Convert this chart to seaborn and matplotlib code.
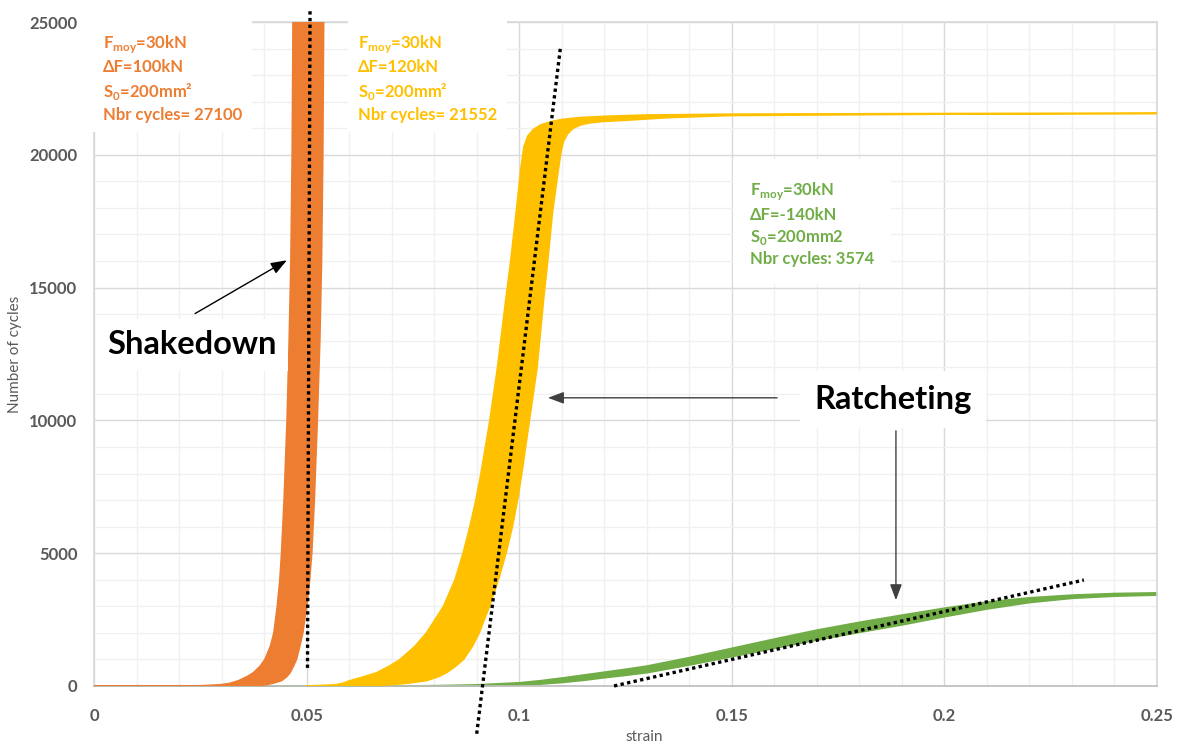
import numpy as np
import pandas as pd
import matplotlib
matplotlib.use('Agg')
import matplotlib.pyplot as plt
import seaborn as sns
from matplotlib.ticker import MultipleLocator

# band outlines (strain, cycles)
orange_out_y = [0, 20, 50, 100, 200, 350, 500, 750, 1000, 1500, 2000, 3000, 4000, 5000, 7000, 10000, 13000, 16000, 20000, 25000, 27100]
orange_out_x = [0.0240, 0.0270, 0.0300, 0.0320, 0.0340, 0.0360, 0.0375, 0.0391, 0.0402, 0.0415, 0.0423, 0.0431, 0.0437, 0.0441,
                0.0447, 0.0454, 0.0459, 0.0463, 0.0466, 0.0468, 0.0469]
orange_in_y = [0, 20, 50, 100, 200, 350, 500, 750, 1000, 1500, 2000, 3000, 4000, 5000, 7000, 10000, 13000, 16000, 20000, 25000, 27100]
orange_in_x = [0.0360, 0.0385, 0.0405, 0.0420, 0.0441, 0.0453, 0.0461, 0.0469, 0.0476, 0.0484, 0.0491, 0.0500, 0.0507, 0.0512,
               0.0518, 0.0525, 0.0531, 0.0535, 0.0538, 0.0540, 0.0541]

yellow_out_y = [0, 20, 50, 100, 200, 350, 500, 750, 1000, 1500, 2000, 3000, 4000, 5000, 6000, 7000, 8000, 10000, 12000, 14500,
                16000, 18000, 19500, 20300, 20700, 20950, 21130, 21250, 21330, 21400, 21450, 21500, 21530, 21555, 21570]
yellow_out_x = [0.0500, 0.0540, 0.0570, 0.0585, 0.0602, 0.0635, 0.0665, 0.0695, 0.0720, 0.0755, 0.0782, 0.0822, 0.0849, 0.0868,
                0.0884, 0.0898, 0.0910, 0.0931, 0.0949, 0.0968, 0.0980, 0.0994, 0.1004, 0.1011, 0.1020, 0.1033, 0.1051,
                0.1075, 0.1100, 0.1140, 0.1200, 0.1300, 0.1500, 0.2000, 0.2500]
yellow_in_y = [0, 20, 50, 100, 200, 350, 500, 750, 1000, 1500, 2000, 3000, 4000, 5000, 6000, 7000, 8000, 9000, 10000, 12000, 14500,
               16000, 17800, 19100, 20100, 20500, 20800, 21000, 21130, 21200, 21250, 21300, 21400, 21480, 21530, 21550]
yellow_in_x = [0.0600, 0.0660, 0.0700, 0.0735, 0.0782, 0.0810, 0.0829, 0.0851, 0.0869, 0.0890, 0.0906, 0.0930, 0.0951, 0.0969,
               0.0984, 0.0996, 0.1006, 0.1015, 0.1024, 0.1042, 0.1057, 0.1067, 0.1078, 0.1089, 0.1098, 0.1104, 0.1114, 0.1127,
               0.1145, 0.1165, 0.1192, 0.1250, 0.1350, 0.1500, 0.2000, 0.2500]

green_x = [0.0, 0.05, 0.07, 0.08, 0.09, 0.10, 0.105, 0.11, 0.115, 0.12, 0.125, 0.13, 0.14, 0.15, 0.16, 0.17, 0.18, 0.19,
           0.20, 0.21, 0.22, 0.23, 0.24, 0.25]
green_top = [0, 0, 15, 30, 60, 140, 220, 320, 430, 540, 650, 770, 1090, 1440, 1790, 2125, 2420, 2690,
             2950, 3180, 3340, 3440, 3500, 3525]
green_bot = [0, 0, 0, 5, 10, 50, 90, 150, 230, 330, 420, 520, 810, 1125, 1440, 1750, 2040, 2320,
             2630, 2920, 3160, 3320, 3400, 3440]

# dotted trend lines
trend_shake = pd.DataFrame({'strain': [0.0502, 0.0508], 'cycles': [680, 25450]})
trend_yellow = pd.DataFrame({'strain': [0.0900, 0.1097], 'cycles': [-1800, 24050]})
trend_green = pd.DataFrame({'strain': [0.1223, 0.2328], 'cycles': [0, 3990]})

x_ticks = [0, 0.05, 0.1, 0.15, 0.2, 0.25]
x_labels = ['0', '0.05', '0.1', '0.15', '0.2', '0.25']

orange = '#ED7D31'
yellow = '#FFC000'
green = '#70AD47'
grey = '#595959'

sns.set_theme(style='white')
plt.rcParams['font.family'] = ['Lato', 'DejaVu Sans']
plt.rcParams['mathtext.fontset'] = 'custom'
plt.rcParams['mathtext.rm'] = 'Lato'
plt.rcParams['mathtext.bf'] = 'Lato:bold'

fig = plt.figure(figsize=(11.8, 7.44), dpi=100)
ax = fig.add_axes([0.0797, 0.078, 0.9008, 0.8924])

ax.set_xlim(0, 0.25)
ax.set_ylim(0, 25000)
ax.set_xticks(x_ticks, labels=x_labels)
ax.xaxis.set_minor_locator(MultipleLocator(0.01))
ax.yaxis.set_major_locator(MultipleLocator(5000))
ax.yaxis.set_minor_locator(MultipleLocator(1000))
ax.grid(which='major', color='#d9d9d9', lw=1)
ax.grid(which='minor', color='#f0f0f0', lw=1)
ax.set_axisbelow(True)
for s in ax.spines.values():
    s.set_color('#d9d9d9')
ax.spines['bottom'].set_color('#bfbfbf')
ax.tick_params(which='both', length=0)
ax.tick_params(axis='x', pad=16, labelsize=12, labelcolor=grey)
ax.tick_params(axis='y', pad=12, labelsize=12, labelcolor=grey)
for lab in ax.get_xticklabels() + ax.get_yticklabels():
    lab.set_fontweight('bold')

# bands
ax.fill_between(green_x, green_bot, green_top, color=green, lw=1.2, edgecolor=green, zorder=2)
ax.fill(yellow_out_x + yellow_in_x[::-1], yellow_out_y + yellow_in_y[::-1], color=yellow, lw=1.2, zorder=3)
ax.plot([0.05, 0.06], [0, 0], color=yellow, lw=1.5, zorder=3)
ax.fill(orange_out_x + orange_in_x[::-1], orange_out_y + orange_in_y[::-1], color=orange, lw=1.2, zorder=4)
ax.plot([0, 0.036], [0, 0], color=orange, lw=1.5, zorder=4)

n_before = len(ax.lines)
for df in (trend_shake, trend_yellow, trend_green):
    sns.lineplot(data=df, x='strain', y='cycles', ax=ax, color='black', lw=2.4,
                 dashes=False, sort=False, zorder=6)
for ln in ax.lines[n_before:]:
    ln.set_linestyle((0, (1, 1)))
    ln.set_clip_on(False)

ax.set_xlabel('strain', fontsize=11, color=grey)
ax.set_ylabel('Number of cycles', fontsize=11, color=grey)
ax.xaxis.set_label_coords(0.518, -0.066)
ax.yaxis.set_label_coords(-0.068, 0.5)

box = dict(facecolor='white', edgecolor='none', pad=7)
ax.text(0.0021, 24600, 'F$_\\mathbf{moy}$=30kN\nΔF=100kN\nS$_\\mathbf{0}$=200mm²\nNbr cycles= 27100',
        color=orange, fontsize=12, fontweight='bold', ha='left', va='top', linespacing=1.36, bbox=box, zorder=7)
ax.text(0.0621, 24600, 'F$_\\mathbf{moy}$=30kN\nΔF=120kN\nS$_\\mathbf{0}$=200mm²\nNbr cycles= 21552',
        color=yellow, fontsize=12, fontweight='bold', ha='left', va='top', linespacing=1.36, bbox=box, zorder=7)
ax.text(0.1543, 19050, 'F$_\\mathbf{moy}$=30kN\nΔF=-140kN\nS$_\\mathbf{0}$=200mm2\nNbr cycles: 3574',
        color=green, fontsize=12, fontweight='bold', ha='left', va='top', linespacing=1.36,
        bbox=dict(facecolor='white', edgecolor='none', pad=12), zorder=7)

ax.text(0.0230, 12840, 'Shakedown', fontsize=23.5, fontweight='bold', color='black',
        ha='center', va='center', bbox=dict(facecolor='white', edgecolor='none', pad=8), zorder=7)
ax.text(0.1879, 10770, 'Ratcheting', fontsize=23.5, fontweight='bold', color='black',
        ha='center', va='center', bbox=dict(facecolor='white', edgecolor='none', pad=10), zorder=7)

arrow = dict(arrowstyle='-|>,head_length=0.8,head_width=0.3', color='black', lw=1)
ax.annotate('', xy=(0.0459, 16080), xytext=(0.0232, 13970), arrowprops=arrow, zorder=8)
ax.annotate('', xy=(0.1061, 10850), xytext=(0.1613, 10850),
            arrowprops=dict(arrowstyle='-|>,head_length=0.8,head_width=0.3', color='#404040', lw=1), zorder=8)
ax.annotate('', xy=(0.1886, 3125), xytext=(0.1886, 9710),
            arrowprops=dict(arrowstyle='-|>,head_length=0.8,head_width=0.3', color='#404040', lw=1), zorder=8)

fig.savefig('out.png', dpi=100)
